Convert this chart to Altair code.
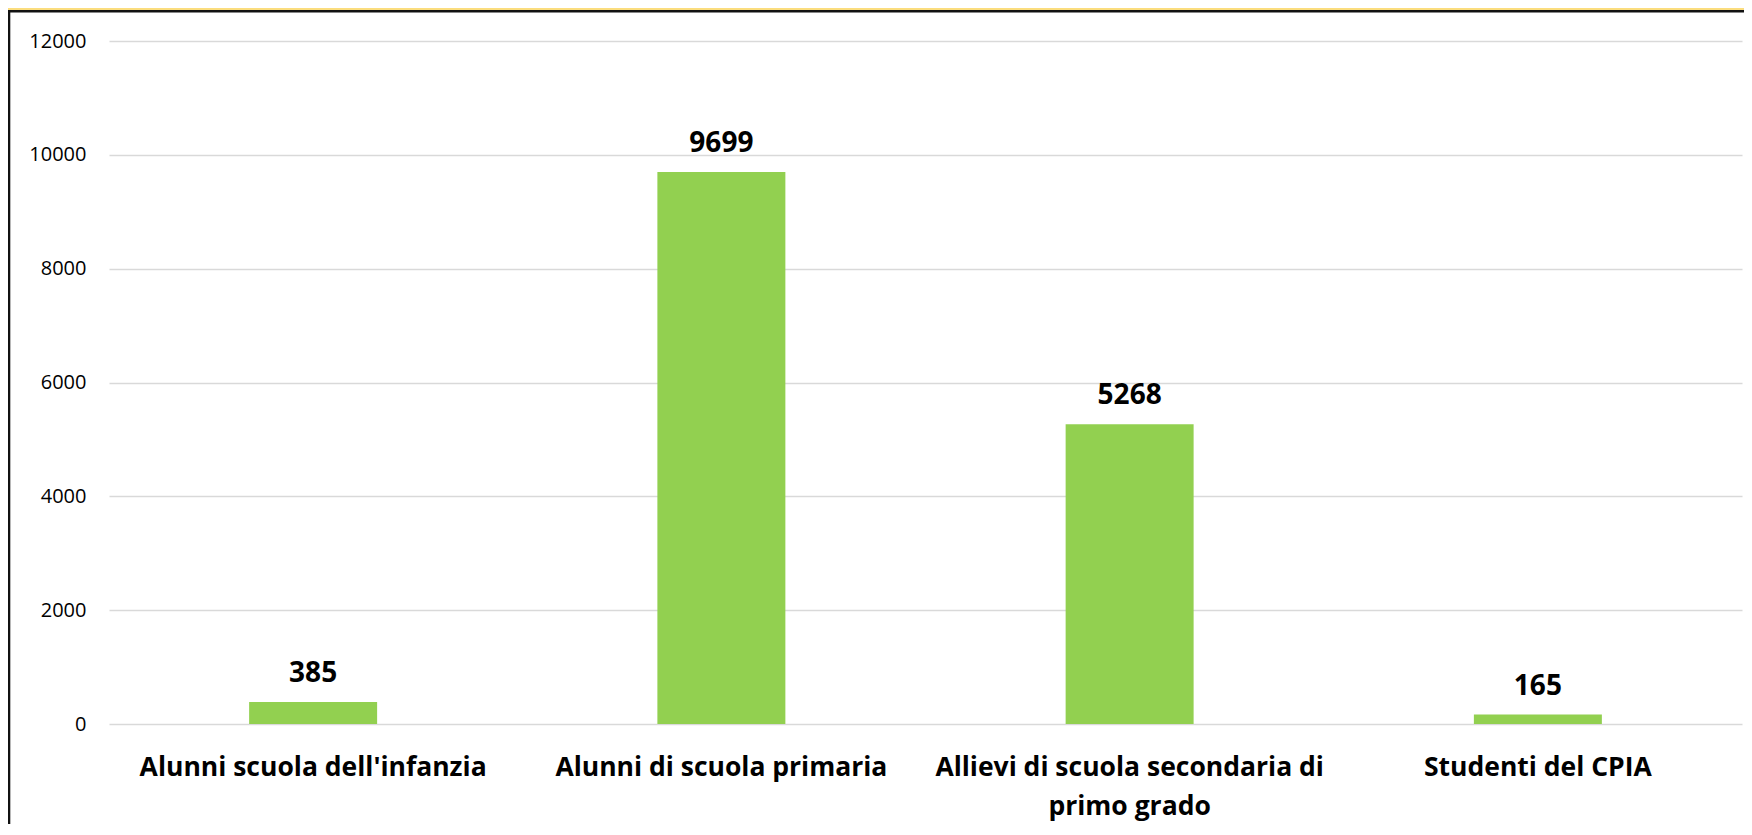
import altair as alt
import pandas as pd

categories = [
    "Alunni scuola dell'infanzia",
    "Alunni di scuola primaria",
    "Allievi di scuola secondaria di primo grado",
    "Studenti del CPIA",
]
values = [385, 9699, 5268, 165]
y_ticks = [0, 2000, 4000, 6000, 8000, 10000, 12000]

df = pd.DataFrame({"categoria": categories, "valore": values})

FONT = "Open Sans"
W, H = 1633, 683

label_expr = (
    "datum.value == 'Allievi di scuola secondaria di primo grado' ? "
    "['Allievi di scuola secondaria di', 'primo grado'] : datum.value"
)

x = alt.X(
    "categoria:N",
    sort=None,
    scale=alt.Scale(paddingInner=0, paddingOuter=0),
    axis=alt.Axis(
        title=None,
        labelAngle=0,
        labelFont=FONT,
        labelFontSize=26.5,
        labelFontWeight="bold",
        labelColor="#000000",
        labelPadding=30,
        labelLineHeight=39,
        labelLimit=0,
        labelExpr=label_expr,
        ticks=False,
        tickSize=0,
        domain=False,
        grid=False,
    ),
)
y = alt.Y(
    "valore:Q",
    scale=alt.Scale(domain=[0, 12000], nice=False),
    axis=alt.Axis(
        title=None,
        values=y_ticks,
        format="d",
        labelFont=FONT,
        labelFontSize=20,
        labelColor="#000000",
        labelPadding=23,
        ticks=False,
        tickSize=0,
        domain=False,
        grid=True,
        gridColor="#D9D9D9",
        gridWidth=1.5,
    ),
)

base = alt.Chart(df)
bars = base.mark_bar(color="#92D050", width=alt.RelativeBandSize(0.3135)).encode(x=x, y=y)
labels = base.mark_text(
    font=FONT, fontSize=28, fontWeight="bold", color="#000000",
    baseline="alphabetic", dy=-20,
).encode(x=x, y=y, text=alt.Text("valore:Q", format="d"))

one = alt.Data(values=[{}])
top_band = alt.Chart(one).mark_rect(color="#FBDD7E").encode(
    x=alt.value(-101), x2=alt.value(W + 2), y=alt.value(-33), y2=alt.value(-31)
)
top_line = alt.Chart(one).mark_rule(color="#111111", strokeWidth=2.6).encode(
    x=alt.value(-101), x2=alt.value(W + 2), y=alt.value(-29.7)
)
left_line = alt.Chart(one).mark_rule(color="#111111", strokeWidth=2.6).encode(
    x=alt.value(-100), y=alt.value(-31), y2=alt.value(H + 100)
)

chart = alt.layer(top_band, top_line, left_line, bars, labels).properties(
    width=W,
    height=H,
    autosize=alt.AutoSizeParams(type="none"),
    padding={"left": 101, "top": 33, "right": 2, "bottom": 100},
).configure(background="#FFFFFF").configure_view(stroke=None)

chart.save("out.html", embed_options={"renderer": "svg", "actions": False})
